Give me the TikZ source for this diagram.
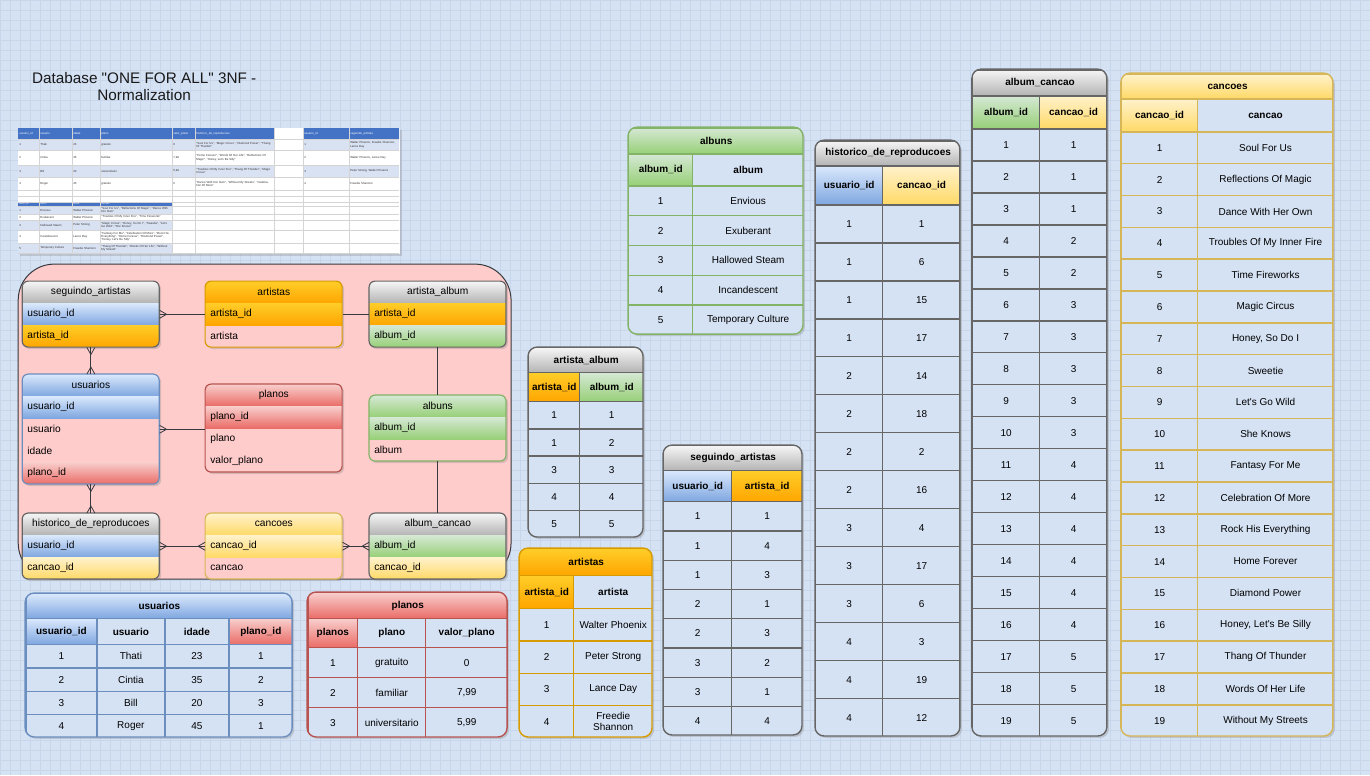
\documentclass[tikz,border=0pt]{standalone}
\usepackage{fontspec}
\setmainfont{Liberation Sans}[Ligatures=TeXOff]
\usepackage{tikz}
\usetikzlibrary{shadows}

\definecolor{bgblue}{HTML}{D5E2F4}
\definecolor{gridline}{HTML}{C8D6EC}
\definecolor{pinkbg}{HTML}{FFCCCC}
\definecolor{edgegray}{HTML}{36393D}
\definecolor{blueL}{HTML}{DAE8FC}
\definecolor{blueD}{HTML}{7EA6E0}
\definecolor{blueS}{HTML}{6C8EBF}
\definecolor{greenL}{HTML}{D5E8D4}
\definecolor{greenD}{HTML}{97D077}
\definecolor{greenS}{HTML}{82B366}
\definecolor{redL}{HTML}{F8CECC}
\definecolor{redD}{HTML}{EA6B66}
\definecolor{redS}{HTML}{B85450}
\definecolor{orangeL}{HTML}{FFCD28}
\definecolor{orangeD}{HTML}{FFA500}
\definecolor{orangeS}{HTML}{D79B00}
\definecolor{yellowL}{HTML}{FFF2CC}
\definecolor{yellowD}{HTML}{FFD966}
\definecolor{yellowS}{HTML}{D6B656}
\definecolor{grayL}{HTML}{F5F5F5}
\definecolor{grayD}{HTML}{B3B3B3}
\definecolor{grayS}{HTML}{666666}
\definecolor{xlblue}{HTML}{4472C4}
\definecolor{xlrow}{HTML}{D9E2F3}
\definecolor{xlline}{HTML}{D4D4D4}

\newcommand\tabfont{\fontsize{10}{11}\selectfont}
\newcommand\tabbold{\bfseries\fontsize{10}{11}\selectfont}
\newcommand\erfont{\fontsize{10.2}{12}\selectfont}
\newcommand\xlfont{\fontsize{2.9}{3.3}\selectfont}

% crow's foot end for the ER links
\pgfdeclarearrow{
  name = Crow,
  setup code = {
    \pgfarrowssettipend{0pt}
    \pgfarrowssetlineend{0pt}
    \pgfarrowssetbackend{-7pt}
  },
  drawing code = {
    \pgfsetdash{}{0pt}
    \pgfpathmoveto{\pgfqpoint{0pt}{4pt}}
    \pgfpathlineto{\pgfqpoint{-7pt}{0pt}}
    \pgfpathlineto{\pgfqpoint{0pt}{-4pt}}
    \pgfusepathqstroke
  }
}

\begin{document}
\begin{tikzpicture}[x=1pt,y=-1pt,
    bluefill/.style={top color=blueL,bottom color=blueD},
    greenfill/.style={top color=greenL,bottom color=greenD},
    redfill/.style={top color=redL,bottom color=redD},
    orangefill/.style={top color=orangeL,bottom color=orangeD},
    yellowfill/.style={top color=yellowL,bottom color=yellowD},
    grayfill/.style={top color=grayL,bottom color=grayD},
    tshadow/.style={drop shadow={opacity=0.3,shadow xshift=2pt,shadow yshift=-2pt}},
    erhead/.style={anchor=north west,minimum width=137,minimum height=22,inner sep=0pt,font=\erfont},
    errow/.style={erhead,text width=127,align=left},
    erline/.style={line width=1.2},
    erlink/.style={draw=edgegray,line width=0.8},
    tcell/.style={draw=#1,line width=1.4,anchor=north west,inner sep=0pt,align=center,font=\tabfont},
    tline/.style={line width=1.4},
    xltext/.style={anchor=west,inner sep=0pt,font=\xlfont,text=black!80},
    xllong/.style={xltext,text width=#1,align=left}]

    %%% PAGE %%%
    \fill[bgblue] (0,0) rectangle (1370,775);
    \foreach \x in {0,10,...,1370} \draw[gridline,line width=0.4] (\x,0) -- (\x,775);
    \foreach \y in {0,10,...,770} \draw[gridline,line width=0.4] (0,\y) -- (1370,\y);
    \useasboundingbox (0,0) rectangle (1370,775);

    %%% TITLE %%%
    \node[align=center,font=\fontsize{15.3}{17}\selectfont,text=black!90] (title) at (144,86) {Database "ONE FOR ALL" 3NF -\\Normalization};

    %%% SPREADSHEET %%%
    \fill[white,tshadow] (18,128) rectangle (400,254);
    \fill[xlblue] (18,128) rectangle (274,139) (303,128) rectangle (399,139);
    \fill[xlrow] (18,139) rectangle (274,150) (303,139) rectangle (399,150);
    \fill[xlrow] (18,165) rectangle (274,177) (303,165) rectangle (399,177);
    \fill[xlblue] (18,202) rectangle (172,206);
    \fill[xlrow] (18,206) rectangle (172,214) (18,220) rectangle (172,230) (18,243) rectangle (172,253);
    \foreach \x in {39,72,100,172,195,274,303,349} \draw[xlline,line width=0.3] (\x,128) -- (\x,254);
    \foreach \y in {139,150,165,177,190,196,202,206,214,220,230,243,253} \draw[xlline,line width=0.3] (18,\y) -- (399,\y);
    \foreach \x/\t [count=\k] in {19/usuario\_id,40/usuario,73/idade,101/plano,173/valor\_plano,196/historico\_de\_reproducoes,304/usuario\_id,350/seguindo\_artistas}
        \node[xltext,text=white] (xl-h\k) at (\x,133.5) {\t};
    \foreach \y/\a/\b/\c/\d/\e/\f/\g/\h [count=\k] in {
        144.5/1/Thati/23/gratuito/0/{"Soul For Us", "Magic Circus", "Diamond Power", "Thang Of Thunder"}/1/{Walter Phoenix, Freedie Shannon, Lance Day},
        157.5/2/Cintia/35/familiar/{7,99}/{"Home Forever", "Words Of Her Life", "Reflections Of Magic", "Honey, Let's Be Silly"}/2/{Walter Phoenix, Lance Day},
        171/3/Bill/20/universitario/{5,99}/{"Troubles Of My Inner Fire", "Thang Of Thunder", "Magic Circus"}/3/{Peter Strong, Walter Phoenix},
        183.5/4/Roger/45/gratuito/0/{"Dance With Her Own", "Without My Streets", "Celebration Of More"}/4/{Freedie Shannon}}{
        \node[xltext] (xl-a\k) at (19,\y) {\a};
        \node[xltext] (xl-b\k) at (40,\y) {\b};
        \node[xltext] (xl-c\k) at (73,\y) {\c};
        \node[xltext] (xl-d\k) at (101,\y) {\d};
        \node[xltext] (xl-e\k) at (173,\y) {\e};
        \node[xllong=76] (xl-f\k) at (196,\y) {\f};
        \node[xltext] (xl-g\k) at (304,\y) {\g};
        \node[xllong=48] (xl-i\k) at (350,\y) {\h};
    }
    \foreach \x/\t [count=\k] in {19/album\_id,40/album,73/artista,101/cancoes}
        \node[xltext,text=white,font=\fontsize{2.2}{2.5}\selectfont] (xl-g\k) at (\x,204) {\t};
    \foreach \y/\a/\b/\c/\d [count=\k] in {
        210/1/Envious/Walter Phoenix/{"Soul For Us", "Reflections Of Magic", "Dance With Her Own"},
        217/2/Exuberant/Walter Phoenix/{"Troubles Of My Inner Fire", "Time Fireworks"},
        225/3/Hallowed Steam/Peter Strong/{"Magic Circus", "Honey, So Do I", "Sweetie", "Let's Go Wild", "She Knows"},
        236.5/4/Incandescent/Lance Day/{"Fantasy For Me", "Celebration Of More", "Rock His Everything", "Home Forever", "Diamond Power", "Honey, Let's Be Silly"},
        248/5/Temporary Culture/Freedie Shannon/{"Thang Of Thunder", "Words Of Her Life", "Without My Streets"}}{
        \node[xltext] (xl-m\k) at (19,\y) {\a};
        \node[xltext] (xl-n\k) at (40,\y) {\b};
        \node[xltext] (xl-o\k) at (73,\y) {\c};
        \node[xllong=70] (xl-p\k) at (101,\y) {\d};
    }

    %%% ER DIAGRAM %%%
    \draw[fill=pinkbg,draw=edgegray,line width=1,rounded corners=36] (18,264) rectangle (511,579);

    % seguindo_artistas
    \fill[pinkbg,tshadow,rounded corners=6] (22,281) rectangle (159,347);
    \begin{scope}
        \clip[rounded corners=6] (22,281) rectangle (159,347);
        \node[erhead,grayfill] (seg) at (22,281) {seguindo\_artistas};
        \node[errow,bluefill] (seg-uid) at (22,303) {usuario\_id};
        \node[errow,orangefill] (seg-aid) at (22,325) {artista\_id};
    \end{scope}
    \draw[grayS,erline,rounded corners=6] (22,281) rectangle (159,347);

    % artistas
    \fill[pinkbg,tshadow,rounded corners=6] (205,281) rectangle (342,347);
    \begin{scope}
        \clip[rounded corners=6] (205,281) rectangle (342,347);
        \node[erhead,orangefill] (art) at (205,281) {artistas};
        \node[errow,orangefill] (art-aid) at (205,303) {artista\_id};
        \node[errow] (art-nome) at (205,325) {artista};
    \end{scope}
    \draw[orangeS,erline,rounded corners=6] (205,281) rectangle (342,347);

    % artista_album
    \fill[pinkbg,tshadow,rounded corners=6] (369,281) rectangle (506,347);
    \begin{scope}
        \clip[rounded corners=6] (369,281) rectangle (506,347);
        \node[erhead,grayfill] (aa) at (369,281) {artista\_album};
        \node[errow,orangefill] (aa-aid) at (369,303) {artista\_id};
        \node[errow,greenfill] (aa-alb) at (369,325) {album\_id};
    \end{scope}
    \draw[grayS,erline,rounded corners=6] (369,281) rectangle (506,347);

    % usuarios
    \fill[pinkbg,tshadow,rounded corners=6] (22,374) rectangle (159,484);
    \begin{scope}
        \clip[rounded corners=6] (22,374) rectangle (159,484);
        \node[erhead,bluefill] (usr) at (22,374) {usuarios};
        \node[errow,bluefill] (usr-id) at (22,396) {usuario\_id};
        \node[errow] (usr-nome) at (22,418) {usuario};
        \node[errow] (usr-idade) at (22,440) {idade};
        \node[errow,redfill] (usr-plano) at (22,462) {plano\_id};
    \end{scope}
    \draw[blueS,erline,rounded corners=6] (22,374) rectangle (159,484);

    % planos
    \fill[pinkbg,tshadow,rounded corners=6] (205,384) rectangle (342,472);
    \begin{scope}
        \clip[rounded corners=6] (205,384) rectangle (342,472);
        \node[erhead,redfill] (pl) at (205,384) {planos};
        \node[errow,redfill] (pl-id) at (205,406) {plano\_id};
        \node[errow] (pl-nome) at (205,428) {plano};
        \node[errow] (pl-valor) at (205,450) {valor\_plano};
    \end{scope}
    \draw[redS,erline,rounded corners=6] (205,384) rectangle (342,472);

    % albuns
    \fill[pinkbg,tshadow,rounded corners=6] (369,395) rectangle (506,461);
    \begin{scope}
        \clip[rounded corners=6] (369,395) rectangle (506,461);
        \node[erhead,greenfill] (alb) at (369,395) {albuns};
        \node[errow,greenfill] (alb-id) at (369,417) {album\_id};
        \node[errow] (alb-nome) at (369,439) {album};
    \end{scope}
    \draw[greenS,erline,rounded corners=6] (369,395) rectangle (506,461);

    % historico_de_reproducoes
    \fill[pinkbg,tshadow,rounded corners=6] (22,513) rectangle (159,579);
    \begin{scope}
        \clip[rounded corners=6] (22,513) rectangle (159,579);
        \node[erhead,grayfill] (hr) at (22,513) {historico\_de\_reproducoes};
        \node[errow,bluefill] (hr-uid) at (22,535) {usuario\_id};
        \node[errow,yellowfill] (hr-cid) at (22,557) {cancao\_id};
    \end{scope}
    \draw[grayS,erline,rounded corners=6] (22,513) rectangle (159,579);

    % cancoes
    \fill[pinkbg,tshadow,rounded corners=6] (205,513) rectangle (342,579);
    \begin{scope}
        \clip[rounded corners=6] (205,513) rectangle (342,579);
        \node[erhead,yellowfill] (can) at (205,513) {cancoes};
        \node[errow,yellowfill] (can-cid) at (205,535) {cancao\_id};
        \node[errow] (can-nome) at (205,557) {cancao};
    \end{scope}
    \draw[yellowS,erline,rounded corners=6] (205,513) rectangle (342,579);

    % album_cancao
    \fill[pinkbg,tshadow,rounded corners=6] (369,513) rectangle (506,579);
    \begin{scope}
        \clip[rounded corners=6] (369,513) rectangle (506,579);
        \node[erhead,grayfill] (ac) at (369,513) {album\_cancao};
        \node[errow,greenfill] (ac-alb) at (369,535) {album\_id};
        \node[errow,yellowfill] (ac-cid) at (369,557) {cancao\_id};
    \end{scope}
    \draw[grayS,erline,rounded corners=6] (369,513) rectangle (506,579);

    % links
    \draw[erlink,Crow-] (seg-uid.east) -- (art-aid.west);
    \draw[erlink] (art-aid.east) -- (aa-aid.west);
    \draw[erlink,Crow-Crow] (seg-aid.south) -- (usr.north);
    \draw[erlink,Crow-] (usr-nome.east) -- (usr-nome.east -| pl-id.south west);
    \draw[erlink] (aa-alb.south) -- (alb.north);
    \draw[erlink,Crow-Crow] (usr-plano.south) -- (hr.north);
    \draw[erlink,Crow-Crow] (hr-uid.east) -- (can-cid.west);
    \draw[erlink,Crow-Crow] (can-cid.east) -- (ac-alb.west);
    \draw[erlink] (alb-nome.south) -- (ac.north);

    %%% TABLE usuarios %%%
    \fill[bgblue,tshadow,rounded corners=9] (25,593) rectangle (292,737);
    \begin{scope}
        \clip[rounded corners=9] (25,593) rectangle (292,737);
        \node[tcell=blueS,bluefill,minimum width=267,minimum height=25,font=\tabbold] (tu) at (25,593) {usuarios};
        \node[tcell=blueS,bluefill,minimum width=71,minimum height=26,font=\tabbold] (tu-h1) at (25,618) {usuario\_id};
        \node[tcell=blueS,minimum width=68,minimum height=26,font=\tabbold] (tu-h2) at (96,618) {usuario};
        \node[tcell=blueS,minimum width=64,minimum height=26,font=\tabbold] (tu-h3) at (164,618) {idade};
        \node[tcell=blueS,redfill,minimum width=64,minimum height=26,font=\tabbold] (tu-h4) at (228,618) {plano\_id};
        \foreach \a/\b/\c/\d [count=\k from 0] in {1/Thati/23/1,2/Cintia/35/2,3/Bill/20/3,4/Roger/45/1}{
            \node[tcell=blueS,minimum width=71,minimum height=23.25] (tu-a\k) at (25,{644+23.25*\k}) {\a};
            \node[tcell=blueS,minimum width=68,minimum height=23.25] (tu-b\k) at (96,{644+23.25*\k}) {\b};
            \node[tcell=blueS,minimum width=64,minimum height=23.25] (tu-c\k) at (164,{644+23.25*\k}) {\c};
            \node[tcell=blueS,minimum width=64,minimum height=23.25] (tu-d\k) at (228,{644+23.25*\k}) {\d};
        }
    \end{scope}
    \draw[blueS,tline,rounded corners=9] (25,593) rectangle (292,737);

    %%% TABLE planos %%%
    \fill[bgblue,tshadow,rounded corners=9] (307,592) rectangle (507,737);
    \begin{scope}
        \clip[rounded corners=9] (307,592) rectangle (507,737);
        \node[tcell=redS,redfill,minimum width=200,minimum height=26,font=\tabbold] (tp) at (307,592) {planos};
        \node[tcell=redS,redfill,minimum width=50,minimum height=29,font=\tabbold] (tp-h1) at (307,618) {planos};
        \node[tcell=redS,minimum width=68,minimum height=29,font=\tabbold] (tp-h2) at (357,618) {plano};
        \node[tcell=redS,minimum width=82,minimum height=29,font=\tabbold] (tp-h3) at (425,618) {valor\_plano};
        \foreach \a/\b/\c [count=\k from 0] in {1/gratuito/0,2/familiar/{7,99},3/universitario/{5,99}}{
            \node[tcell=redS,minimum width=50,minimum height=30] (tp-a\k) at (307,{647+30*\k}) {\a};
            \node[tcell=redS,minimum width=68,minimum height=30] (tp-b\k) at (357,{647+30*\k}) {\b};
            \node[tcell=redS,minimum width=82,minimum height=30] (tp-c\k) at (425,{647+30*\k}) {\c};
        }
    \end{scope}
    \draw[redS,tline,rounded corners=9] (307,592) rectangle (507,737);

    %%% TABLE artista_album %%%
    \fill[bgblue,tshadow,rounded corners=9] (528,347) rectangle (643,537);
    \begin{scope}
        \clip[rounded corners=9] (528,347) rectangle (643,537);
        \node[tcell=grayS,grayfill,minimum width=115,minimum height=25,font=\tabbold] (taa) at (528,347) {artista\_album};
        \node[tcell=grayS,orangefill,minimum width=51,minimum height=29,font=\tabbold] (taa-h1) at (528,372) {artista\_id};
        \node[tcell=grayS,greenfill,minimum width=64,minimum height=29,font=\tabbold] (taa-h2) at (579,372) {album\_id};
        \foreach \a/\b [count=\k from 0] in {1/1,1/2,3/3,4/4,5/5}{
            \node[tcell=grayS,minimum width=51,minimum height=27.2] (taa-a\k) at (528,{401+27.2*\k}) {\a};
            \node[tcell=grayS,minimum width=64,minimum height=27.2] (taa-b\k) at (579,{401+27.2*\k}) {\b};
        }
    \end{scope}
    \draw[grayS,tline,rounded corners=9] (528,347) rectangle (643,537);

    %%% TABLE artistas %%%
    \fill[bgblue,tshadow,rounded corners=9] (519,548) rectangle (652,737);
    \begin{scope}
        \clip[rounded corners=9] (519,548) rectangle (652,737);
        \node[tcell=orangeS,orangefill,minimum width=133,minimum height=27,font=\tabbold] (ta) at (519,548) {artistas};
        \node[tcell=orangeS,orangefill,minimum width=54,minimum height=33,font=\tabbold] (ta-h1) at (519,575) {artista\_id};
        \node[tcell=orangeS,minimum width=79,minimum height=33,font=\tabbold] (ta-h2) at (573,575) {artista};
        \foreach \a/\b [count=\k from 0] in {1/Walter Phoenix,2/Peter Strong,3/Lance Day,4/Freedie\\Shannon}{
            \node[tcell=orangeS,minimum width=54,minimum height=32.25] (ta-a\k) at (519,{608+32.25*\k}) {\a};
            \node[tcell=orangeS,minimum width=79,minimum height=32.25] (ta-b\k) at (573,{608+32.25*\k}) {\b};
        }
    \end{scope}
    \draw[orangeS,tline,rounded corners=9] (519,548) rectangle (652,737);

    %%% TABLE seguindo_artistas %%%
    \fill[bgblue,tshadow,rounded corners=9] (663,445) rectangle (802,735);
    \begin{scope}
        \clip[rounded corners=9] (663,445) rectangle (802,735);
        \node[tcell=grayS,grayfill,minimum width=139,minimum height=25,font=\tabbold] (ts) at (663,445) {seguindo\_artistas};
        \node[tcell=grayS,bluefill,minimum width=68,minimum height=31,font=\tabbold] (ts-h1) at (663,470) {usuario\_id};
        \node[tcell=grayS,orangefill,minimum width=71,minimum height=31,font=\tabbold] (ts-h2) at (731,470) {artista\_id};
        \foreach \a/\b [count=\k from 0] in {1/1,1/4,1/3,2/1,2/3,3/2,3/1,4/4}{
            \node[tcell=grayS,minimum width=68,minimum height=29.25] (ts-a\k) at (663,{501+29.25*\k}) {\a};
            \node[tcell=grayS,minimum width=71,minimum height=29.25] (ts-b\k) at (731,{501+29.25*\k}) {\b};
        }
    \end{scope}
    \draw[grayS,tline,rounded corners=9] (663,445) rectangle (802,735);

    %%% TABLE albuns %%%
    \fill[bgblue,tshadow,rounded corners=9] (628,127) rectangle (803,334);
    \begin{scope}
        \clip[rounded corners=9] (628,127) rectangle (803,334);
        \node[tcell=greenS,greenfill,minimum width=175,minimum height=26,font=\tabbold] (tal) at (628,127) {albuns};
        \node[tcell=greenS,greenfill,minimum width=64,minimum height=32,font=\tabbold] (tal-h1) at (628,153) {album\_id};
        \node[tcell=greenS,minimum width=111,minimum height=32,font=\tabbold] (tal-h2) at (692,153) {album};
        \foreach \a/\b [count=\k from 0] in {1/Envious,2/Exuberant,3/Hallowed Steam,4/Incandescent,5/Temporary Culture}{
            \node[tcell=greenS,minimum width=64,minimum height=29.8] (tal-a\k) at (628,{185+29.8*\k}) {\a};
            \node[tcell=greenS,minimum width=111,minimum height=29.8] (tal-b\k) at (692,{185+29.8*\k}) {\b};
        }
    \end{scope}
    \draw[greenS,tline,rounded corners=9] (628,127) rectangle (803,334);

    %%% TABLE historico_de_reproducoes %%%
    \fill[bgblue,tshadow,rounded corners=9] (815,140) rectangle (960,736);
    \begin{scope}
        \clip[rounded corners=9] (815,140) rectangle (960,736);
        \node[tcell=grayS,grayfill,minimum width=145,minimum height=25,font=\tabbold] (th) at (815,140) {historico\_de\_reproducoes};
        \node[tcell=grayS,bluefill,minimum width=67,minimum height=39,font=\tabbold] (th-h1) at (815,165) {usuario\_id};
        \node[tcell=grayS,yellowfill,minimum width=78,minimum height=39,font=\tabbold] (th-h2) at (882,165) {cancao\_id};
        \foreach \a/\b [count=\k from 0] in {1/1,1/6,1/15,1/17,2/14,2/18,2/2,2/16,3/4,3/17,3/6,4/3,4/19,4/12}{
            \node[tcell=grayS,minimum width=67,minimum height=38] (th-a\k) at (815,{204+38*\k}) {\a};
            \node[tcell=grayS,minimum width=78,minimum height=38] (th-b\k) at (882,{204+38*\k}) {\b};
        }
    \end{scope}
    \draw[grayS,tline,rounded corners=9] (815,140) rectangle (960,736);

    %%% TABLE album_cancao %%%
    \fill[bgblue,tshadow,rounded corners=9] (972,69) rectangle (1107,736);
    \begin{scope}
        \clip[rounded corners=9] (972,69) rectangle (1107,736);
        \node[tcell=grayS,grayfill,minimum width=135,minimum height=26,font=\tabbold] (tac) at (972,69) {album\_cancao};
        \node[tcell=grayS,greenfill,minimum width=67,minimum height=33,font=\tabbold] (tac-h1) at (972,95) {album\_id};
        \node[tcell=grayS,yellowfill,minimum width=68,minimum height=33,font=\tabbold] (tac-h2) at (1039,95) {cancao\_id};
        \foreach \b [count=\k from 0] in {1,1,1,2,2,3,3,3,3,3,4,4,4,4,4,4,5,5,5}{
            \node[tcell=grayS,minimum width=67,minimum height=32] (tac-a\k) at (972,{128+32*\k}) {\pgfmathparse{int(\k+1)}\pgfmathresult};
            \node[tcell=grayS,minimum width=68,minimum height=32] (tac-b\k) at (1039,{128+32*\k}) {\b};
        }
    \end{scope}
    \draw[grayS,tline,rounded corners=9] (972,69) rectangle (1107,736);

    %%% TABLE cancoes %%%
    \fill[bgblue,tshadow,rounded corners=9] (1121,73) rectangle (1333,736);
    \begin{scope}
        \clip[rounded corners=9] (1121,73) rectangle (1333,736);
        \node[tcell=yellowS,yellowfill,minimum width=212,minimum height=25,font=\tabbold] (tc) at (1121,73) {cancoes};
        \node[tcell=yellowS,yellowfill,minimum width=76,minimum height=33,font=\tabbold] (tc-h1) at (1121,98) {cancao\_id};
        \node[tcell=yellowS,minimum width=136,minimum height=33,font=\tabbold] (tc-h2) at (1197,98) {cancao};
        \foreach \b [count=\k from 0] in {Soul For Us,Reflections Of Magic,Dance With Her Own,Troubles Of My Inner Fire,Time Fireworks,Magic Circus,{Honey, So Do I},Sweetie,Let's Go Wild,She Knows,Fantasy For Me,Celebration Of More,Rock His Everything,Home Forever,Diamond Power,{Honey, Let's Be Silly},Thang Of Thunder,Words Of Her Life,Without My Streets}{
            \node[tcell=yellowS,minimum width=76,minimum height=31.84] (tc-a\k) at (1121,{131+31.84*\k}) {\pgfmathparse{int(\k+1)}\pgfmathresult};
            \node[tcell=yellowS,minimum width=136,minimum height=31.84] (tc-b\k) at (1197,{131+31.84*\k}) {\b};
        }
    \end{scope}
    \draw[yellowS,tline,rounded corners=9] (1121,73) rectangle (1333,736);
\end{tikzpicture}
\end{document}
